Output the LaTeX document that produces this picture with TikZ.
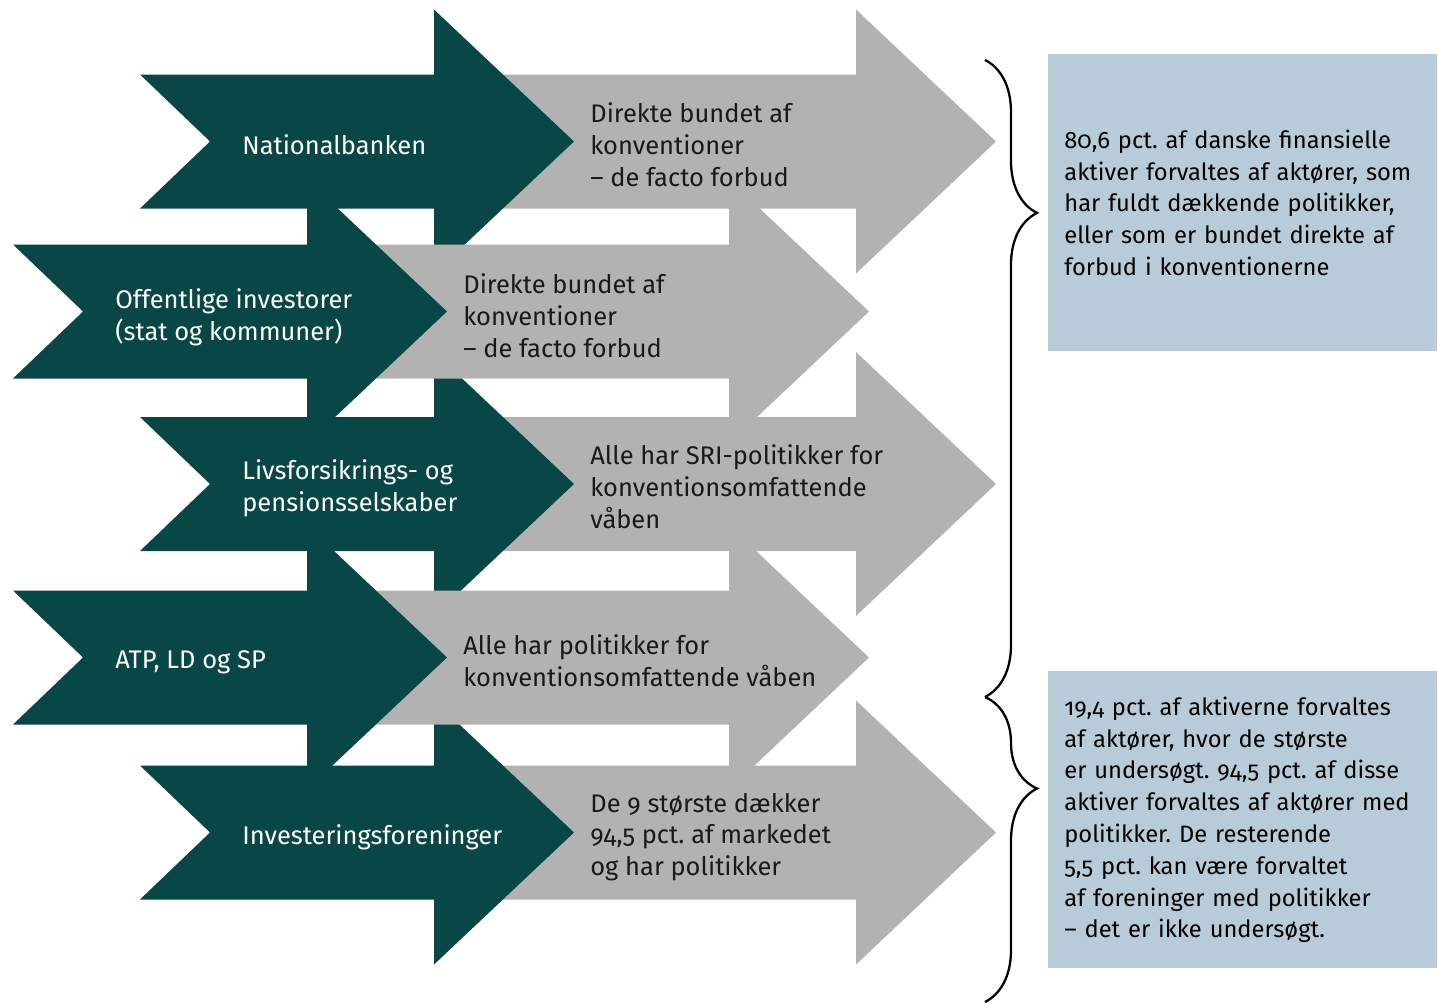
\documentclass[tikz,border=0pt]{standalone}
\usepackage{fontspec}
\setmainfont{Fira Sans}[Numbers=OldStyle]
\usetikzlibrary{decorations.pathreplacing}
\frenchspacing

\definecolor{arrowgreen}{RGB}{9,71,71}
\definecolor{arrowgrey}{RGB}{178,178,178}
\definecolor{boxblue}{RGB}{184,203,217}
\definecolor{darktext}{RGB}{25,25,25}

\tikzset{
  pics/greenarrow/.style={code={
    \fill[arrowgreen] (0,-67) -- (#1,-67) -- (#1,-132) -- (#1+140,0) -- (#1,132) -- (#1,67) -- (0,67) -- (70,0) -- cycle;}},
  pics/greyarrow/.style={code={
    \fill[arrowgrey] (0,-67) -- (#1,-67) -- (#1,-132) -- (#1+140,0) -- (#1,132) -- (#1,67) -- (0,67) -- cycle;}},
  txt/.style={font=\fontsize{14.5}{18.1}\selectfont, align=left, anchor=west, inner sep=0pt},
  greentxt/.style={txt, text=white},
  greytxt/.style={txt, text=darktext},
  infobox/.style={fill=boxblue, anchor=north west, text width=7.14cm, inner xsep=0.32cm,
    minimum height=5.94cm, align=left, font=\fontsize{13.5}{18.1}\selectfont},
  bracket/.style={decorate, line width=1.3pt, decoration={brace, amplitude=1.04cm}}
}

\begin{document}
\begin{tikzpicture}[x=0.02cm, y=-0.02cm]
\useasboundingbox (0,0) rectangle (1438,1004);

% arrows: outer rows first, the indented rows lie on top
\pic at (434,141.5) {greyarrow=422};
\pic at (140,141.5) {greenarrow=294};
\pic at (434,484) {greyarrow=422};
\pic at (140,484) {greenarrow=294};
\pic at (434,832.5) {greyarrow=422};
\pic at (140,832.5) {greenarrow=294};
\pic at (307,311.5) {greyarrow=422};
\pic at (13,311.5) {greenarrow=294};
\pic at (307,657.5) {greyarrow=422};
\pic at (13,657.5) {greenarrow=294};

% labels
\node[greentxt] (natbank) at (242,145) {Nationalbanken};
\node[greytxt] (natbankrule) at (590,145) {Direkte bundet af\\konventioner\\– de facto forbud};
\node[greentxt] (offinv) at (115,317) {Offentlige investorer\\(stat og kommuner)};
\node[greytxt] (offinvrule) at (463,316) {Direkte bundet af\\konventioner\\– de facto forbud};
\node[greentxt] (livpen) at (242,488) {Livsforsikrings- og\\pensionsselskaber};
\node[greytxt] (livpenrule) at (590,487) {Alle har SRI-politikker for\\konventionsomfattende\\våben};
\node[greentxt] (atp) at (115,662) {ATP, LD og SP};
\node[greytxt] (atprule) at (463,661) {Alle har politikker for\\konventionsomfattende våben};
\node[greentxt] (invfor) at (242,837) {Investeringsforeninger};
\node[greytxt] (invforrule) at (590,837) {De 9 største dækker\\94,5 pct. af markedet\\og har politikker};

% summary boxes
\node[infobox] (sumtop) at (1048,54) {80,6 pct. af danske finansielle\\aktiver forvaltes af aktører, som\\har fuldt dækkende politikker,\\eller som er bundet direkte af\\forbud i konventionerne};
\node[infobox] (sumbot) at (1048,671) {19,4 pct. af aktiverne forvaltes\\af aktører, hvor de største\\er undersøgt. 94,5 pct. af disse\\aktiver forvaltes af aktører med\\politikker. De resterende\\5,5 pct. kan være forvaltet\\af foreninger med politikker\\– det er ikke undersøgt.};

% braces
\coordinate (bratop) at (985,60);
\coordinate (bramid) at (985,697);
\coordinate (brabot) at (985,1002);
\draw[bracket, decoration={aspect=0.24}] (bratop) -- (bramid);
\draw[bracket, decoration={aspect=0.30}] (bramid) -- (brabot);
\end{tikzpicture}
\end{document}
